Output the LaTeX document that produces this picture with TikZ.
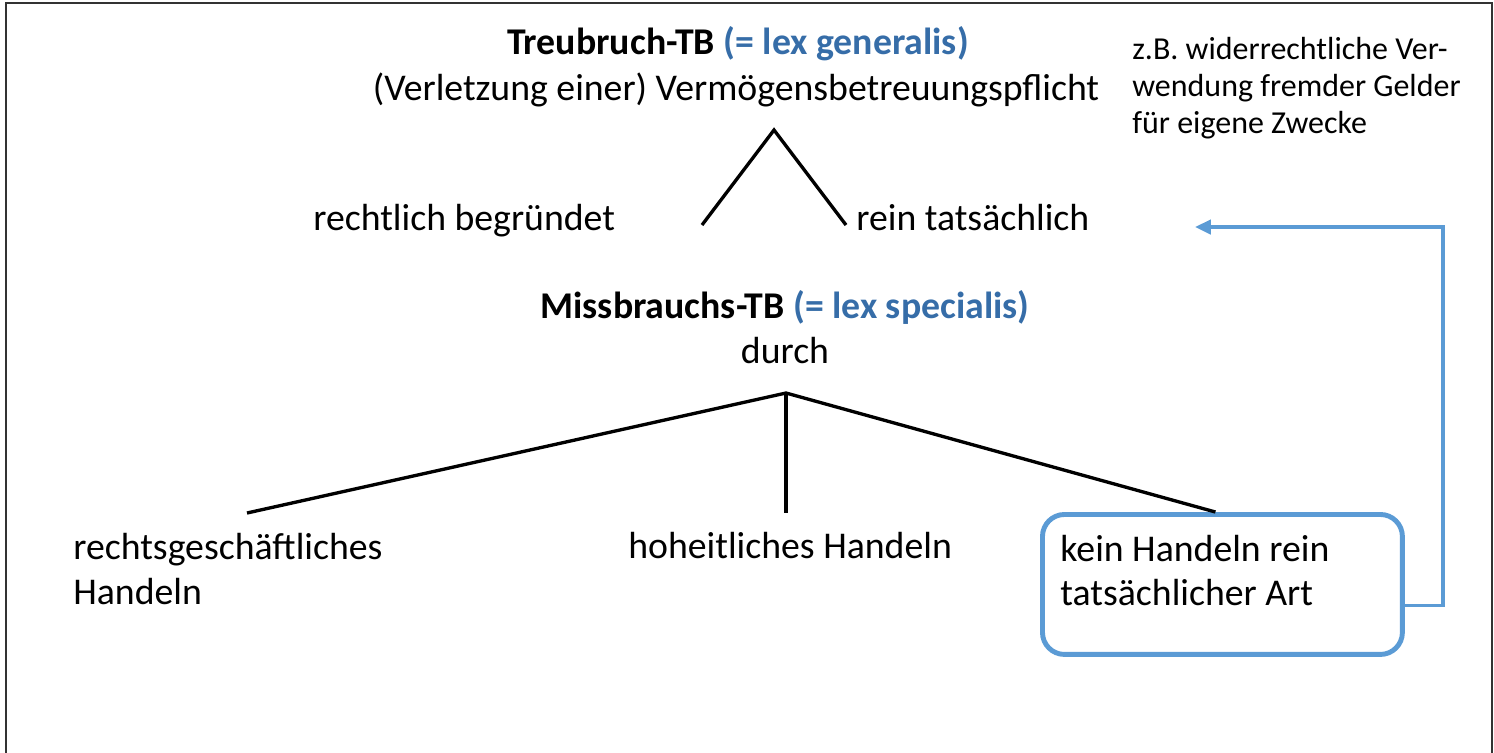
\documentclass[tikz,border=0pt]{standalone}
\usepackage{fontspec}
\setmainfont{Carlito}
\usetikzlibrary{arrows.meta}
\definecolor{lexblue}{RGB}{54,109,168}
\definecolor{boxblue}{RGB}{91,155,213}

\begin{document}
\begin{tikzpicture}[x=0.02cm, y=-0.02cm, >=Triangle,
  txt/.style={font=\fontsize{21.5}{25.5}\selectfont, inner sep=0pt},
  small/.style={font=\fontsize{18.2}{21}\selectfont, inner sep=0pt},
  branch/.style={line width=1.9pt, black},
  loop/.style={line width=2.2pt, boxblue, -{Triangle[length=9pt, width=8pt]}}]
  \useasboundingbox (0,0) rectangle (1494,752);
  \draw[line width=1.1pt, black!80] (6,770) -- (6,3) -- (1492,3) -- (1492,770);

  % Treubruch
  \node[txt, anchor=base] (treu) at (738,54) {\textbf{Treubruch-TB} \textcolor{lexblue}{\textbf{(= lex generalis)}}};
  \node[txt, anchor=base] (pflicht) at (736,100) {(Verletzung einer) Vermögensbetreuungspflicht};
  \node[small, anchor=base west, align=left] (bsp) at (1132,133) {z.B. widerrechtliche Ver-\\wendung fremder Gelder\\für eigene Zwecke};
  \coordinate (gen) at (774,130);
  \coordinate (rb) at (702,225);
  \coordinate (rt) at (846,225);
  \draw[branch] (rb) -- (gen) -- (rt);
  \node[txt, anchor=base west] (rechtl) at (313,230) {rechtlich begründet};
  \node[txt, anchor=base west] (tats) at (856,230) {rein tatsächlich};

  % Missbrauch
  \node[txt, anchor=base] (miss) at (785,318) {\textbf{Missbrauchs-TB} \textcolor{lexblue}{\textbf{(= lex specialis)}}};
  \node[txt, anchor=base] (durch) at (785,363) {durch};
  \coordinate (spec) at (786,393);
  \coordinate (rg) at (247,513);
  \coordinate (hh) at (786,513);
  \node[txt, anchor=base west, align=left] (rgesch) at (73,604) {rechtsgeschäftliches\\Handeln};
  \node[txt, anchor=base west] (hoheit) at (628,558) {hoheitliches Handeln};
  \node[txt, draw=boxblue, line width=2.8pt, rounded corners=0.44cm, anchor=north west,
    minimum width=7.2cm, minimum height=2.8cm, text width=6.48cm, align=flush left,
    inner xsep=0.36cm] (kein) at (1040,512) {kein Handeln rein\\tatsächlicher Art\rule[-0.56cm]{0pt}{0pt}};
  \draw[branch] (rg) -- (spec) -- ([xshift=-0.14cm]kein.north);
  \draw[branch] (spec) -- (hh);

  % Rueckverweis
  \coordinate (tip) at (1195,227);
  \coordinate (corner) at (1443,227);
  \draw[loop] ([yshift=-0.42cm]kein.east) -| (corner) -- (tip);
\end{tikzpicture}
\end{document}
